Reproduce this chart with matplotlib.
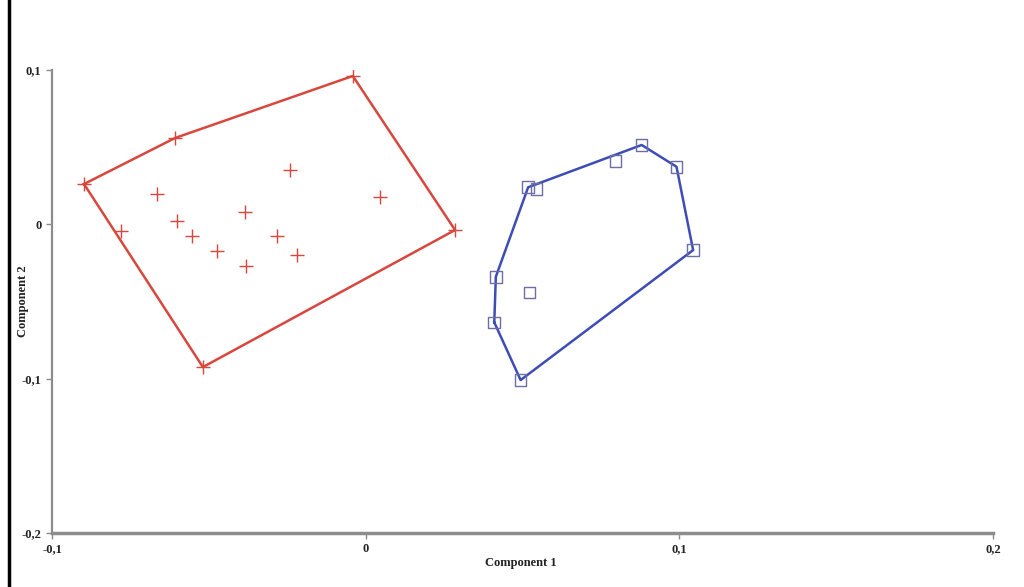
import matplotlib
matplotlib.use("Agg")
import matplotlib.pyplot as plt
from matplotlib.lines import Line2D
from matplotlib.ticker import FuncFormatter

# group 1 (red +)
red_x = [-0.0898, -0.0608, -0.0041, 0.0285, -0.0519,
         -0.0780, -0.0665, -0.0602, -0.0554, -0.0474, -0.0385,
         -0.0382, -0.0283, -0.0241, -0.0219, 0.0046]
red_y = [0.0261, 0.0559, 0.0961, -0.0037, -0.0925,
         -0.0043, 0.0196, 0.0021, -0.0076, -0.0173, 0.0080,
         -0.0270, -0.0076, 0.0352, -0.0199, 0.0177]

# group 2 (blue squares)
blue_x = [0.0880, 0.0991, 0.1044, 0.0797, 0.0518,
          0.0545, 0.0415, 0.0522, 0.0410, 0.0494]
blue_y = [0.0514, 0.0373, -0.0167, 0.0410, 0.0240,
          0.0227, -0.0340, -0.0441, -0.0635, -0.1009]

x_ticks = [-0.1, 0, 0.1, 0.2]
y_ticks = [-0.2, -0.1, 0, 0.1]


def hull(xs, ys):
    pts = sorted(zip(xs, ys))

    def cross(o, a, b):
        return (a[0] - o[0]) * (b[1] - o[1]) - (a[1] - o[1]) * (b[0] - o[0])

    lower, upper = [], []
    for p in pts:
        while len(lower) >= 2 and cross(lower[-2], lower[-1], p) <= 0:
            lower.pop()
        lower.append(p)
    for p in reversed(pts):
        while len(upper) >= 2 and cross(upper[-2], upper[-1], p) <= 0:
            upper.pop()
        upper.append(p)
    h = lower[:-1] + upper[:-1]
    h.append(h[0])
    return [p[0] for p in h], [p[1] for p in h]


red = '#d8473d'
blue = '#3e4db5'
spine_col = '#8c8c8c'
serif = ['Liberation Serif', 'DejaVu Serif']

fig = plt.figure(figsize=(10.24, 5.87), dpi=100)
ax = fig.add_axes([0.0508, 0.092, 0.9189, 0.7888])

hx, hy = hull(red_x, red_y)
ax.plot(hx, hy, color=red, lw=1.8, zorder=2)
ax.scatter(red_x, red_y, marker='+', s=90, color=red, linewidths=1.0, zorder=3)

hx, hy = hull(blue_x, blue_y)
ax.plot(hx, hy, color=blue, lw=1.8, zorder=2)
ax.scatter(blue_x, blue_y, marker='s', s=70, facecolors='none',
           edgecolors='#6b6fa6', linewidths=1.0, zorder=3)

ax.set_xlim(-0.1, 0.2)
ax.set_ylim(-0.2, 0.1)
ax.set_xticks(x_ticks)
ax.set_yticks(y_ticks)
fmt = FuncFormatter(lambda v, p: ('%g' % round(v, 3)).replace('.', ','))
ax.xaxis.set_major_formatter(fmt)
ax.yaxis.set_major_formatter(fmt)

for s in ['top', 'right']:
    ax.spines[s].set_visible(False)
ax.spines['left'].set_color(spine_col)
ax.spines['left'].set_linewidth(1.6)
ax.spines['bottom'].set_color(spine_col)
ax.spines['bottom'].set_linewidth(2.5)
ax.tick_params(colors=spine_col, length=4, width=1, labelcolor='#222222')
for lbl in ax.get_xticklabels() + ax.get_yticklabels():
    lbl.set_family(serif)
    lbl.set_fontweight('bold')
    lbl.set_fontsize(9)

ax.set_xlabel('Component 1', family=serif, fontweight='bold', fontsize=9,
              color='#222222')
ax.set_ylabel('Component 2', family=serif, fontweight='bold', fontsize=9,
              color='#222222')
ax.xaxis.set_label_coords(0.498, -0.052)
ax.yaxis.set_label_coords(-0.024, 0.5)

# black bar at the left edge of the image
fig.add_artist(Line2D([0.0085, 0.0085], [0, 1], color='black', lw=2.5,
                      transform=fig.transFigure))

fig.savefig('out.png', dpi=100)
